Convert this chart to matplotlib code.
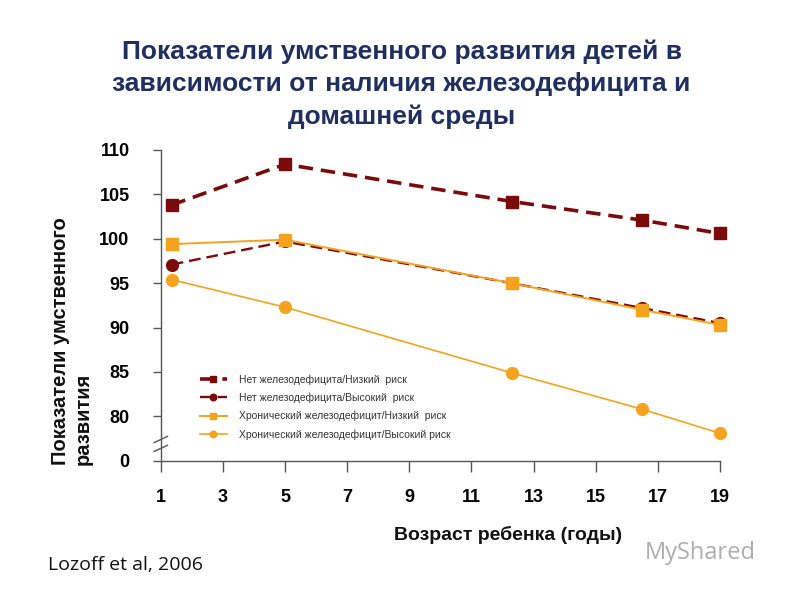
import matplotlib
matplotlib.use("Agg")
import matplotlib.pyplot as plt
from matplotlib.transforms import blended_transform_factory

plt.rcParams['font.family'] = ['Liberation Sans', 'DejaVu Sans']

ages = [1.35, 5, 12.3, 16.5, 19]
no_def_low = [103.8, 108.4, 104.2, 102.1, 100.6]
no_def_high = [97.1, 99.7, 95.0, 92.2, 90.5]
chron_low = [99.4, 99.9, 95.0, 92.0, 90.3]
chron_high = [95.4, 92.3, 84.9, 80.8, 78.1]

labels = ["Нет железодефицита/Низкий  риск",
          "Нет железодефицита/Высокий  риск",
          "Хронический железодефицит/Низкий  риск",
          "Хронический железодефицит/Высокий риск"]

xticks = [1, 3, 5, 7, 9, 11, 13, 15, 17, 19]
yticks = [75, 80, 85, 90, 95, 100, 105, 110]
ytick_labels = ['0', '80', '85', '90', '95', '100', '105', '110']

dark = '#7B0A0A'
orange = '#F5A31E'

fig = plt.figure(figsize=(8, 6), dpi=100)
ax = fig.add_axes([0.201, 0.232, 0.699, 0.518])

ax.plot(ages, no_def_low, color=dark, lw=2.6, ls=(0, (4, 2.2)), marker='s', ms=8.5,
        label=labels[0], zorder=3, clip_on=False)
ax.plot(ages, no_def_high, color=dark, lw=1.7, ls=(0, (5, 2.5)), marker='o', ms=8.5,
        label=labels[1], zorder=3, clip_on=False)
ax.plot(ages, chron_low, color=orange, lw=1.4, ls='-', marker='s', ms=8.5,
        label=labels[2], zorder=4, clip_on=False)
ax.plot(ages, chron_high, color=orange, lw=1.2, ls='-', marker='o', ms=8.5,
        label=labels[3], zorder=4, clip_on=False)

ax.set_xlim(1, 19)
ax.set_ylim(75, 110)
ax.set_xticks(xticks)
ax.set_xticklabels([str(t) for t in xticks], fontsize=13, fontweight='bold')
ax.set_yticks(yticks)
ax.set_yticklabels(ytick_labels, fontsize=13, fontweight='bold')
for s in ['top', 'right']:
    ax.spines[s].set_visible(False)
for s in ['left', 'bottom']:
    ax.spines[s].set_color('#555555')
    ax.spines[s].set_linewidth(1.0)
ax.tick_params(axis='x', direction='out', length=8, width=1, color='#555555', pad=12)
ax.tick_params(axis='y', direction='out', length=6, width=1, color='#555555', pad=16.5)

# axis break marks
tr = blended_transform_factory(ax.transAxes, ax.transData)
for yb in [76.4, 77.4]:
    ax.plot([-0.012, 0.012], [yb - 0.35, yb + 0.35], transform=tr, color='#555555',
            lw=1.0, clip_on=False)

leg = ax.legend(loc='upper left', bbox_to_anchor=(0.06, 0.295), frameon=False,
                fontsize=7.5, handlelength=2.6, labelspacing=0.75, borderpad=0,
                handletextpad=1.2, markerscale=0.55)
for t in leg.get_texts():
    t.set_color('#333333')

fig.text(0.502, 0.86, "Показатели умственного развития детей в\nзависимости от наличия железодефицита и\nдомашней среды",
         ha='center', va='center', fontsize=19, fontweight='bold', color='#1F2F5F',
         linespacing=1.42)

fig.text(0.09, 0.225, "Показатели умственного\nразвития", rotation=90, ha='center',
         va='bottom', multialignment='left', fontsize=14.5, fontweight='bold', color='#111111')

fig.text(0.635, 0.108, "Возраст ребенка (годы)", ha='center', va='center', fontsize=14,
         fontweight='bold', color='#111111')

fig.text(0.06, 0.058, "Lozoff et al, 2006", ha='left', va='center', fontsize=14,
         color='#111111', family=['Open Sans', 'DejaVu Sans'])

fig.text(0.806, 0.078, "MyShared", ha='left', va='center', fontsize=17,
         color='#777777', alpha=0.6, family=['Open Sans', 'DejaVu Sans'])

fig.savefig('out.png', dpi=100)
